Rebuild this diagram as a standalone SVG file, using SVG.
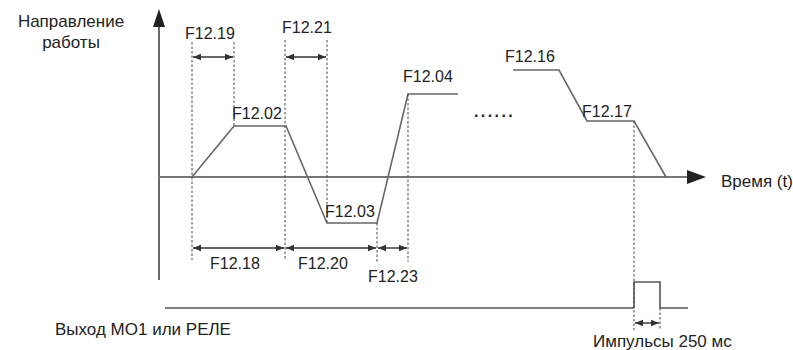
<svg xmlns="http://www.w3.org/2000/svg" width="793" height="350" viewBox="0 0 793 350">
<defs>
<style>
text{font-family:"Liberation Sans",Arial,sans-serif;fill:#222}
.lbl{font-size:16px}
.big{font-size:17px}
.axis{stroke:#444;stroke-width:1.6;fill:none}
.curve{stroke:#666;stroke-width:1.6;fill:none}
.dash{stroke:#444;stroke-width:1;stroke-dasharray:2.5,2;fill:none}
.dim{stroke:#333;stroke-width:1.4;fill:none;marker-start:url(#ah);marker-end:url(#ah)}
</style>
<marker id="ah" viewBox="0 0 10 10" refX="10" refY="5" markerWidth="8" markerHeight="8" markerUnits="userSpaceOnUse" orient="auto-start-reverse">
<path d="M0,1 L10,5 L0,9 Z" fill="#333"/>
</marker>
</defs>
<rect width="793" height="350" fill="#fff"/>
<g id="axes">
<line class="axis" x1="159" y1="280" x2="159" y2="24"/>
<path d="M159,9 L165,27 L153,27 Z" fill="#222"/>
<line class="axis" x1="159" y1="177" x2="690" y2="177" style="stroke:#777;stroke-width:2"/>
<path d="M706,177 L687,170 L687,184 Z" fill="#222"/>
<line class="axis" x1="165" y1="308" x2="634" y2="308" style="stroke:#555"/>
</g>
<g id="curve">
<polyline class="curve" points="192,177 234,126 286,126 327,223 377,223 408,94 458,94"/>
<polyline class="curve" points="513,70 559,70 587,121 634,121 666,177"/>
<polyline class="curve" points="634,308 634,282 660,282 660,308 688,308" style="stroke:#555"/>
</g>
<g id="connectors">
<line class="dash" x1="192" y1="42" x2="192" y2="260"/>
<line class="dash" x1="234" y1="42" x2="234" y2="126"/>
<line class="dash" x1="285" y1="40" x2="285" y2="260"/>
<line class="dash" x1="327" y1="40" x2="327" y2="223"/>
<line class="dash" x1="377" y1="223" x2="377" y2="262"/>
<line class="dash" x1="408" y1="94" x2="408" y2="262"/>
<line class="dash" x1="634" y1="121" x2="634" y2="330"/>
<line class="dash" x1="660" y1="308" x2="660" y2="330"/>
<line class="dim" x1="193" y1="57" x2="233" y2="57"/>
<line class="dim" x1="286" y1="57" x2="326" y2="57"/>
<line class="dim" x1="193" y1="248" x2="284" y2="248"/>
<line class="dim" x1="286" y1="248" x2="376" y2="248"/>
<line class="dim" x1="378" y1="248" x2="407" y2="248"/>
<line class="dim" x1="635" y1="323" x2="659" y2="323"/>
</g>
<g id="labels">
<text class="big" x="71" y="27" text-anchor="middle">Направление</text>
<text class="big" x="71" y="48" text-anchor="middle">работы</text>
<text class="lbl" x="185" y="39">F12.19</text>
<text class="lbl" x="282" y="33">F12.21</text>
<text class="lbl" x="232" y="119">F12.02</text>
<text class="lbl" x="403" y="82">F12.04</text>
<text class="lbl" x="505" y="62">F12.16</text>
<text class="lbl" x="582" y="117">F12.17</text>
<text class="lbl" x="325" y="217">F12.03</text>
<text class="lbl" x="210" y="269">F12.18</text>
<text class="lbl" x="298" y="269">F12.20</text>
<text class="lbl" x="368" y="282">F12.23</text>
<text class="lbl" x="474" y="117" style="font-weight:bold;letter-spacing:2.4px">......</text>
<text class="big" x="721" y="187">Время (t)</text>
<text class="big" x="55" y="335">Выход МО1 или РЕЛЕ</text>
<text class="big" x="593" y="347">Импульсы 250 мс</text>
</g>
</svg>
